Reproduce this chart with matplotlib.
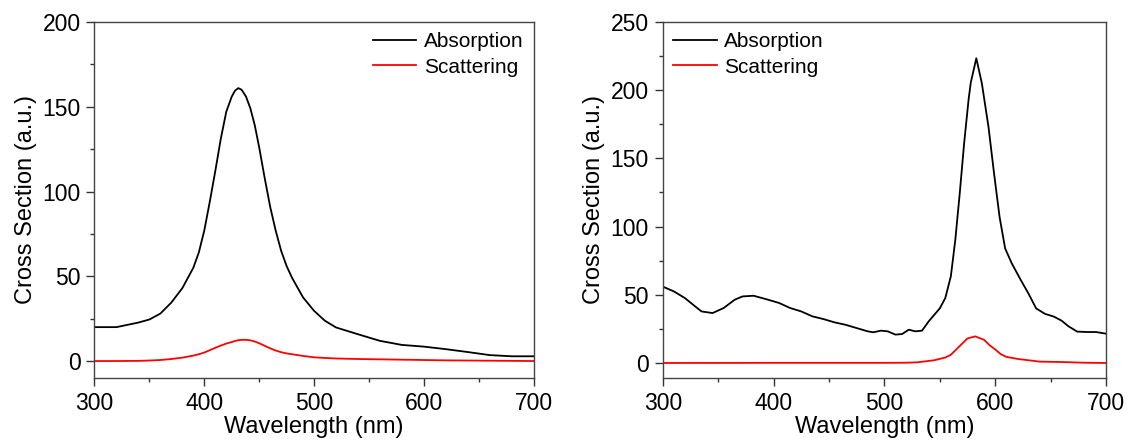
import matplotlib.pyplot as plt
from matplotlib.ticker import MultipleLocator

plt.rcParams['font.family'] = ['Liberation Sans', 'DejaVu Sans']

# left panel: wavelength (nm) and cross sections (a.u.)
left_wl = [300, 320, 340, 350, 360, 370, 380, 390, 395, 400, 405, 410, 415,
           420, 425, 428, 431, 434, 438, 442, 446, 450, 455, 460, 465, 470,
           475, 480, 490, 500, 510, 520, 540, 560, 580, 600, 620, 640, 660,
           680, 700]
left_abs = [20, 20, 22.7, 24.5, 28, 34.5, 43, 55, 64, 77, 94, 112, 131,
            147, 156, 159.5, 161, 160, 156, 149, 139, 126, 108, 91, 77, 65,
            56, 49, 37.5, 29.6, 23.7, 19.8, 15.8, 11.9, 9.5, 8.5, 7, 5.3, 3.5,
            2.8, 2.8]
left_sca = [0, 0, 0.1, 0.3, 0.6, 1.2, 2, 3.2, 4, 5, 6.4, 7.8, 9.1,
            10.3, 11.2, 11.8, 12.3, 12.5, 12.5, 12.2, 11.5, 10.5, 9, 7.5, 6.2, 5.2,
            4.5, 4, 3, 2.2, 1.8, 1.5, 1.2, 1, 0.8, 0.6, 0.4, 0.3, 0.2,
            0.1, 0]

# right panel
right_wl = [300, 310, 320, 330, 335, 345, 355, 365, 372, 382, 395, 405, 415,
            425, 435, 445, 455, 465, 475, 485, 490, 497, 503, 510, 516, 522,
            528, 534, 540, 550, 555, 560, 564, 568, 572, 576, 578, 583, 588,
            594, 599, 604, 609, 615, 623, 630, 637, 645, 653, 660, 666, 674,
            683, 691, 700]
right_abs = [56, 52.5, 47.6, 41, 37.8, 36.6, 40.3, 46.4, 48.8, 49.3, 46.4, 44, 40.3,
             37.8, 34.2, 32.2, 29.8, 28, 25.6, 23.2, 22.5, 23.7, 23.2, 20.8, 21.2, 24.4,
             23.2, 23.7, 30.5, 40, 47.6, 63.5, 90, 124, 161, 193, 205.6, 223.4, 205,
             173, 139, 107, 84, 73, 61, 51, 40, 36, 34, 31, 27, 23,
             22.7, 22.7, 21.5]
right_sca_wl = [300, 400, 500, 520, 530, 545, 555, 560, 565, 570, 575, 582,
                590, 595, 600, 605, 610, 620, 630, 640, 660, 680, 700]
right_sca = [0, 0.1, 0.1, 0.2, 0.5, 2, 4, 6, 10, 14, 18, 19.5,
             17, 13, 10, 6.5, 4.5, 3, 2, 1, 0.7, 0.2, 0]

fig = plt.figure(figsize=(11.29, 4.46), dpi=100)
ax1 = fig.add_axes([0.0837, 0.1525, 0.389, 0.7982])
ax2 = fig.add_axes([0.587, 0.1525, 0.3926, 0.7982])

ax1.plot(left_wl, left_abs, color='black', lw=1.3, label='Absorption')
ax1.plot(left_wl, left_sca, color='red', lw=1.3, label='Scattering')
ax2.plot(right_wl, right_abs, color='black', lw=1.3, label='Absorption')
ax2.plot(right_sca_wl, right_sca, color='red', lw=1.3, label='Scattering')

ax1.set_ylim(-10, 200)
ax2.set_ylim(-11, 250)

for ax in (ax1, ax2):
    ax.set_xlim(300, 700)
    ax.xaxis.set_major_locator(MultipleLocator(100))
    ax.xaxis.set_minor_locator(MultipleLocator(50))
    ax.yaxis.set_major_locator(MultipleLocator(50))
    ax.yaxis.set_minor_locator(MultipleLocator(25))
    ax.tick_params(which='both', direction='out', top=False, right=False,
                   labelsize=16.5, width=1, color='#333333')
    ax.tick_params(which='major', length=6, pad=4)
    ax.tick_params(which='minor', length=3)
    for s in ax.spines.values():
        s.set_color('#444444')
        s.set_linewidth(1)
    ax.set_xlabel('Wavelength (nm)', fontsize=17, labelpad=1)
    ax.set_ylabel('Cross Section (a.u.)', fontsize=17, labelpad=4)

ax1.legend(loc='upper right', bbox_to_anchor=(1.0, 1.0), frameon=False,
           fontsize=15, handlelength=2.1, handletextpad=0.35,
           labelspacing=0.3, borderaxespad=0.1)
ax2.legend(loc='upper left', bbox_to_anchor=(0.0, 1.0), frameon=False,
           fontsize=15, handlelength=2.1, handletextpad=0.35,
           labelspacing=0.3, borderaxespad=0.1)

fig.savefig('out.png', dpi=100)
